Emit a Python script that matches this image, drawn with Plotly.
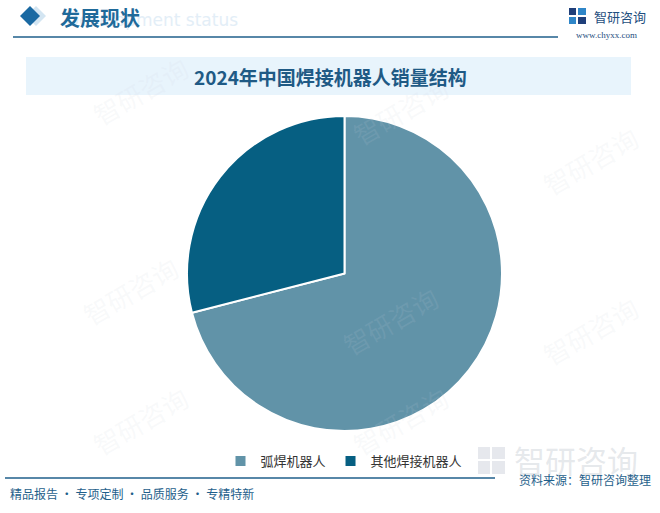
import plotly.graph_objects as go

labels = ["弧焊机器人", "其他焊接机器人"]
values = [71, 29]
colors = ["#6193a8", "#065f82"]

W, H = 660, 513

def px(x):
    return x / W

def py(y):
    return 1 - y / H

fig = go.Figure()
fig.add_trace(go.Pie(
    labels=labels, values=values, sort=False, direction="clockwise", rotation=0,
    marker=dict(colors=colors, line=dict(color="white", width=2)),
    textinfo="none", hoverinfo="label+percent",
    domain=dict(x=[px(187), px(502)], y=[py(431), py(116)]),
))

shapes = []
# header diamonds
shapes.append(dict(type="path", xref="paper", yref="paper",
                   path=f"M {px(36)} {py(6)} L {px(46)} {py(16)} L {px(36)} {py(26)} L {px(26)} {py(16)} Z",
                   fillcolor="#d3e5f2", line=dict(width=0)))
shapes.append(dict(type="path", xref="paper", yref="paper",
                   path=f"M {px(30)} {py(6)} L {px(40)} {py(16)} L {px(30)} {py(26)} L {px(20)} {py(16)} Z",
                   fillcolor="#1a69a2", line=dict(width=0)))
# header line
shapes.append(dict(type="line", xref="paper", yref="paper", x0=px(13), x1=px(558), y0=py(37), y1=py(37),
                   line=dict(color="#1f5f8b", width=1.5)))
# title band
shapes.append(dict(type="rect", xref="paper", yref="paper", x0=px(26), x1=px(631), y0=py(95), y1=py(57),
                   fillcolor="#e8f4fc", line=dict(width=0), layer="below"))
# footer line
shapes.append(dict(type="line", xref="paper", yref="paper", x0=px(5), x1=px(495), y0=py(478), y1=py(478),
                   line=dict(color="#1f5f8b", width=1.5)))
# logo icon squares (top right)
for (x0, y0, x1, y1, c) in [(569, 8, 576, 15, "#1f3f7a"), (578, 8, 586, 15, "#2f86c8"),
                            (569, 17, 576, 24, "#2f86c8"), (578, 17, 586, 24, "#1f3f7a")]:
    shapes.append(dict(type="rect", xref="paper", yref="paper", x0=px(x0), x1=px(x1), y0=py(y1), y1=py(y0),
                       fillcolor=c, line=dict(width=0)))
# faint footer logo icon
for (x0, y0, x1, y1) in [(478, 447, 490, 459), (492, 447, 505, 459), (478, 461, 490, 474), (492, 461, 505, 474)]:
    shapes.append(dict(type="rect", xref="paper", yref="paper", x0=px(x0), x1=px(x1), y0=py(y1), y1=py(y0),
                       fillcolor="rgba(200,205,214,0.45)", line=dict(width=0), layer="below"))

ann = []
def text(t, x, y, size, color, xa="center", family="Noto Sans CJK SC", angle=0):
    ann.append(dict(text=t, x=px(x), y=py(y), xref="paper", yref="paper", showarrow=False,
                    xanchor=xa, yanchor="middle", textangle=angle,
                    font=dict(size=size, color=color, family=family)))

# watermarks
for (x, y) in [(140, 90), (400, 110), (590, 160), (130, 290), (390, 320), (590, 330), (140, 420), (400, 420)]:
    text("智研咨询", x, y, 26, "rgba(200,210,222,0.13)", angle=-30)
text("智研咨询", 576, 459, 31, "rgba(200,205,212,0.45)")
text("Development status", 64, 20, 17, "#e3eef7", xa="left", family="Arial Black, DejaVu Sans")
text("<b>发展现状</b>", 58, 17, 20, "#1f6a9a", xa="left")
text("智研咨询", 592, 16, 13, "#1f4f80", xa="left")
text("www.chyxx.com", 606, 35, 9, "#1f4f80", family="Liberation Serif")
text("<b>2024年中国焊接机器人销量结构</b>", 330, 76, 19, "#1f5a85")
text("资料来源：智研咨询整理", 653, 479, 12, "#1f5f8b", xa="right")
text("精品报告 · 专项定制 · 品质服务 · 专精特新", 8, 493, 12, "#1f5f8b", xa="left")

fig.update_layout(
    width=W, height=H, margin=dict(l=0, r=0, t=0, b=0),
    paper_bgcolor="white", plot_bgcolor="white",
    shapes=shapes, annotations=ann,
    showlegend=True,
    legend=dict(orientation="h", x=px(344), xanchor="center", y=py(461), yanchor="middle",
                font=dict(size=13, color="#333333", family="Noto Sans CJK SC"),
                itemwidth=30, bgcolor="rgba(0,0,0,0)"),
    font=dict(family="Noto Sans CJK SC"),
)

fig.write_html("out.html", config={"displayModeBar": False},
               post_script="document.body.style.margin='0';document.body.style.padding='0';")
